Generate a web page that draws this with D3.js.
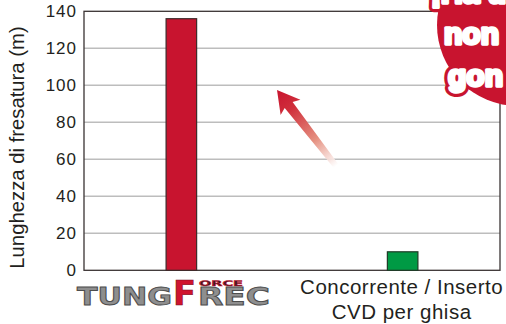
<!DOCTYPE html>
<html>
<head>
<meta charset="utf-8">
<script src="https://cdn.jsdelivr.net/npm/d3@7"></script>
<style>
  html, body { margin: 0; padding: 0; background: #fff; }
  svg { display: block; }
</style>
</head>
<body>
<svg id="chart" width="506" height="324"></svg>
<script>
// ---- data ----
const categories = ["TungForceRec", "Concorrente / Inserto|CVD per ghisa"];
const values = [136, 10];
const barColors = ["#c8142f", "#009a44"];
const barStrokes = ["#3d2a2a", "#1e3a26"];
const yTicks = [0, 20, 40, 60, 80, 100, 120, 140];
const yTitle = "Lunghezza di fresatura (m)";
const bubbleLines = ["¡Ha una", "non", "gon"];

// ---- layout ----
const svg = d3.select("#chart");
const m = { left: 84, right: 500, top: 11.3, bottom: 270.3 };

const x = d3.scaleBand().domain(categories).range([m.left, m.right])
  .paddingInner(0.862).paddingOuter(0.371);
const y = d3.scaleLinear().domain([0, 140]).range([m.bottom, m.top]);

const font = "'Liberation Sans', Arial, Helvetica, sans-serif";

// gridlines
svg.append("g").selectAll("line").data(yTicks.filter(t => t > 0 && t < 140)).join("line")
  .attr("x1", m.left).attr("x2", m.right)
  .attr("y1", d => y(d)).attr("y2", d => y(d))
  .attr("stroke", "#bdbdbd").attr("stroke-width", 1.5);

// frame
svg.append("rect").attr("x", m.left).attr("y", m.top)
  .attr("width", m.right - m.left).attr("height", m.bottom - m.top)
  .attr("fill", "none").attr("stroke", "#3a3333").attr("stroke-width", 1.3);

// y axis labels
const yAxis = d3.axisLeft(y).tickValues(yTicks).tickSize(0).tickPadding(7);
const ga = svg.append("g").attr("transform", `translate(${m.left},0)`).call(yAxis);
ga.select(".domain").remove();
ga.selectAll("text").attr("font-family", font).attr("font-size", 17)
  .attr("letter-spacing", "1px").attr("fill", "#231f20");

// y title
svg.append("text")
  .attr("transform", `translate(23.5,${(20 + 275) / 2}) rotate(-90)`)
  .attr("text-anchor", "middle").attr("font-family", font).attr("font-size", 20.3)
  .attr("fill", "#231f20").text(yTitle);

// arrow decoration
const defs = svg.append("defs");
const grad = defs.append("linearGradient").attr("id", "arrowGrad")
  .attr("gradientUnits", "userSpaceOnUse")
  .attr("x1", 336).attr("y1", 166).attr("x2", 277).attr("y2", 90);
grad.append("stop").attr("offset", 0).attr("stop-color", "#ffffff").attr("stop-opacity", 0.9);
grad.append("stop").attr("offset", 0.35).attr("stop-color", "#e59080");
grad.append("stop").attr("offset", 0.75).attr("stop-color", "#d0303c");
grad.append("stop").attr("offset", 1).attr("stop-color", "#c8142f");
(function () {
  const tip = [277, 90], tail = [336, 166];
  const dx = tail[0] - tip[0], dy = tail[1] - tip[1];
  const L = Math.hypot(dx, dy);
  const u = [dx / L, dy / L], n = [-u[1], u[0]];
  const P = (a, b) => [tip[0] + u[0] * a + n[0] * b, tip[1] + u[1] * a + n[1] * b];
  const head = 22, hw = 12.5, sw = 5, tw = 3;
  const pts = [P(0, 0), P(head, hw), P(head - 3, sw), P(L, tw), P(L, -tw), P(head - 3, -sw), P(head, -hw)];
  svg.append("polygon").attr("points", pts.map(p => p.join(",")).join(" "))
    .attr("fill", "url(#arrowGrad)");
})();

// bars
svg.append("g").selectAll("rect").data(values).join("rect")
  .attr("x", (d, i) => x(categories[i]))
  .attr("width", x.bandwidth())
  .attr("y", d => y(d))
  .attr("height", d => y(0) - y(d))
  .attr("fill", (d, i) => barColors[i])
  .attr("stroke", (d, i) => barStrokes[i]).attr("stroke-width", 1.2);

// x label for competitor
const cx2 = x(categories[1]) + x.bandwidth() / 2;
const lines = categories[1].split("|");
svg.append("text").attr("text-anchor", "middle").attr("font-family", font)
  .attr("font-size", 20.5).attr("letter-spacing", "0.5px").attr("fill", "#231f20")
  .selectAll("tspan").data(lines).join("tspan")
  .attr("x", cx2 - 1).attr("y", (d, i) => 294 + i * 24.5).text(d => d);

// TungForceRec logo label
const logo = svg.append("g").attr("font-family", "'DejaVu Sans', sans-serif").attr("font-weight", "bold");
logo.append("text").attr("x", 77).attr("y", 305).attr("font-size", 24)
  .attr("textLength", 95).attr("lengthAdjust", "spacingAndGlyphs")
  .attr("fill", "#8e8e8e").attr("stroke", "#4d4d4d").attr("stroke-width", 0.9).text("TUNG");
logo.append("text").attr("x", 173).attr("y", 305).attr("font-size", 34)
  .attr("textLength", 23).attr("lengthAdjust", "spacingAndGlyphs")
  .attr("fill", "#d0142f").attr("stroke", "#7a0d1c").attr("stroke-width", 0.6).text("F");
logo.append("text").attr("x", 199).attr("y", 285.5).attr("font-size", 7.5)
  .attr("textLength", 44).attr("lengthAdjust", "spacingAndGlyphs")
  .attr("fill", "#3a1a1f").attr("stroke", "#c8142f").attr("stroke-width", 0.5).text("ORCE");
logo.append("text").attr("x", 198).attr("y", 305).attr("font-size", 24)
  .attr("textLength", 72).attr("lengthAdjust", "spacingAndGlyphs")
  .attr("fill", "#8e8e8e").attr("stroke", "#4d4d4d").attr("stroke-width", 0.9).text("REC");

// red bubble
const bub = svg.append("g");
bub.append("circle").attr("cx", 518).attr("cy", 25).attr("r", 81).attr("fill", "#c8142f");
const bx = [431, 444, 448], by = [3, 43.5, 85.5];
bub.selectAll("text.halo").data(bubbleLines).join("text").attr("class", "halo")
  .attr("x", (d, i) => bx[i]).attr("y", (d, i) => by[i])
  .attr("font-family", font).attr("font-weight", "bold").attr("font-size", 30)
  .attr("fill", "#c8142f").attr("stroke", "#c8142f").attr("stroke-width", 10)
  .attr("stroke-linejoin", "round").text(d => d);
bub.selectAll("text.main").data(bubbleLines).join("text").attr("class", "main")
  .attr("x", (d, i) => bx[i]).attr("y", (d, i) => by[i])
  .attr("font-family", font).attr("font-weight", "bold").attr("font-size", 30)
  .attr("fill", "#ffffff").attr("stroke", "#ffffff").attr("stroke-width", 3.5)
  .attr("stroke-linejoin", "round").attr("paint-order", "stroke").text(d => d);
</script>
</body>
</html>
